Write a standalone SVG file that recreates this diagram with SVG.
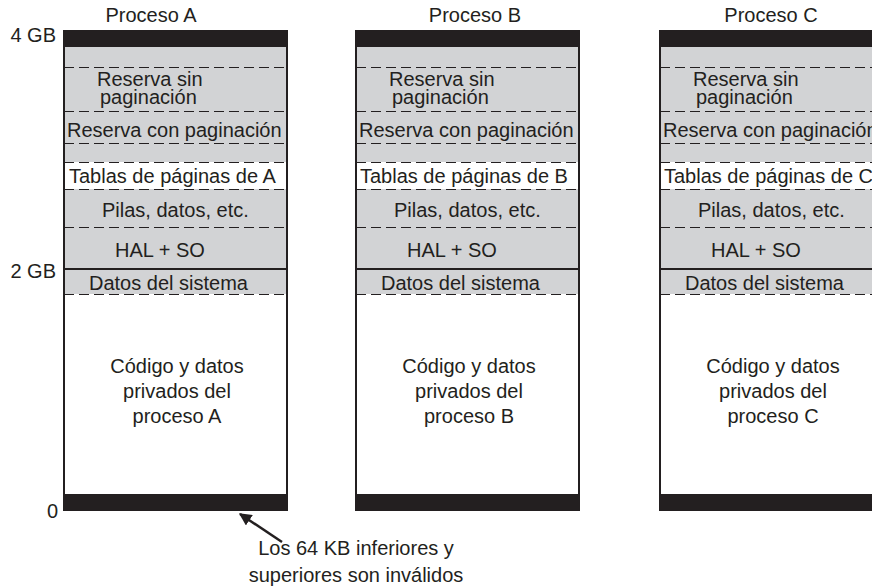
<svg xmlns="http://www.w3.org/2000/svg" width="872" height="587" viewBox="0 0 872 587">
<defs>
<style>
text{font-family:"Liberation Sans",Arial,sans-serif;font-size:20px;fill:#231f20}
.gray{fill:#d2d3d5}
.white{fill:#ffffff}
.band{fill:#231f20}
.frame{fill:none;stroke:#231f20;stroke-width:2}
.dash{stroke:#231f20;stroke-width:1;stroke-dasharray:10 5;fill:none}
.solid{stroke:#231f20;stroke-width:2;fill:none}
.mid{text-anchor:middle}
.end{text-anchor:end}
.arrow{stroke:#231f20;stroke-width:2.5;fill:none}
</style>
<marker id="ah" viewBox="0 0 10 10" refX="9" refY="5" markerWidth="5" markerHeight="5" orient="auto-start-reverse" markerUnits="strokeWidth">
<path d="M0,0 L10,5 L0,10 Z" fill="#231f20"/>
</marker>
</defs>
<rect width="872" height="587" fill="#ffffff"/>

<g id="axis-labels">
<text class="end" x="56" y="42">4 GB</text>
<text class="end" x="56" y="278">2 GB</text>
<text class="end" x="58" y="518">0</text>
</g>

<g id="proceso-a" transform="translate(64,0)">
<rect class="gray" x="0" y="47" width="223" height="247"/>
<rect class="white" x="0" y="162" width="223" height="27"/>
<rect class="band" x="0" y="31" width="223" height="16"/>
<rect class="band" x="0" y="494" width="223" height="16"/>
<path class="dash" d="M0,67.5H223M0,111.5H223M0,143.5H223M0,162.5H223M0,189.5H223M0,227.5H223M0,294.5H223"/>
<path class="solid" d="M0,269H223"/>
<rect class="frame" x="0" y="31" width="223" height="479"/>
<text x="33" y="86">Reserva sin</text>
<text x="36" y="104">paginación</text>
<text x="3" y="137">Reserva con paginación</text>
<text x="5" y="183">Tablas de páginas de A</text>
<text x="38" y="217">Pilas, datos, etc.</text>
<text x="51" y="257">HAL + SO</text>
<text x="25" y="290">Datos del sistema</text>
<text class="mid" x="113" y="373">Código y datos</text>
<text class="mid" x="113" y="398">privados del</text>
<text class="mid" x="113" y="423">proceso A</text>
<text class="mid" x="87" y="22">Proceso A</text>
</g>

<g id="proceso-b" transform="translate(356,0)">
<rect class="gray" x="0" y="47" width="223" height="247"/>
<rect class="white" x="0" y="162" width="223" height="27"/>
<rect class="band" x="0" y="31" width="223" height="16"/>
<rect class="band" x="0" y="494" width="223" height="16"/>
<path class="dash" d="M0,67.5H223M0,111.5H223M0,143.5H223M0,162.5H223M0,189.5H223M0,227.5H223M0,294.5H223"/>
<path class="solid" d="M0,269H223"/>
<rect class="frame" x="0" y="31" width="223" height="479"/>
<text x="33" y="86">Reserva sin</text>
<text x="36" y="104">paginación</text>
<text x="3" y="137">Reserva con paginación</text>
<text x="4" y="183">Tablas de páginas de B</text>
<text x="38" y="217">Pilas, datos, etc.</text>
<text x="51" y="257">HAL + SO</text>
<text x="25" y="290">Datos del sistema</text>
<text class="mid" x="113" y="373">Código y datos</text>
<text class="mid" x="113" y="398">privados del</text>
<text class="mid" x="113" y="423">proceso B</text>
<text class="mid" x="119" y="22">Proceso B</text>
</g>

<g id="proceso-c" transform="translate(660,0)">
<rect class="gray" x="0" y="47" width="223" height="247"/>
<rect class="white" x="0" y="162" width="223" height="27"/>
<rect class="band" x="0" y="31" width="223" height="16"/>
<rect class="band" x="0" y="494" width="223" height="16"/>
<path class="dash" d="M0,67.5H223M0,111.5H223M0,143.5H223M0,162.5H223M0,189.5H223M0,227.5H223M0,294.5H223"/>
<path class="solid" d="M0,269H223"/>
<rect class="frame" x="0" y="31" width="223" height="479"/>
<text x="33" y="86">Reserva sin</text>
<text x="36" y="104">paginación</text>
<text x="3" y="137">Reserva con paginación</text>
<text x="4" y="183">Tablas de páginas de C</text>
<text x="38" y="217">Pilas, datos, etc.</text>
<text x="51" y="257">HAL + SO</text>
<text x="25" y="290">Datos del sistema</text>
<text class="mid" x="113" y="373">Código y datos</text>
<text class="mid" x="113" y="398">privados del</text>
<text class="mid" x="113" y="423">proceso C</text>
<text class="mid" x="111" y="22">Proceso C</text>
</g>

<g id="connectors">
<path class="arrow" d="M282,542 L240,514" marker-end="url(#ah)"/>
</g>

<g id="nota">
<text class="mid" x="356" y="555">Los 64 KB inferiores y</text>
<text class="mid" x="356" y="582">superiores son inválidos</text>
</g>
</svg>
